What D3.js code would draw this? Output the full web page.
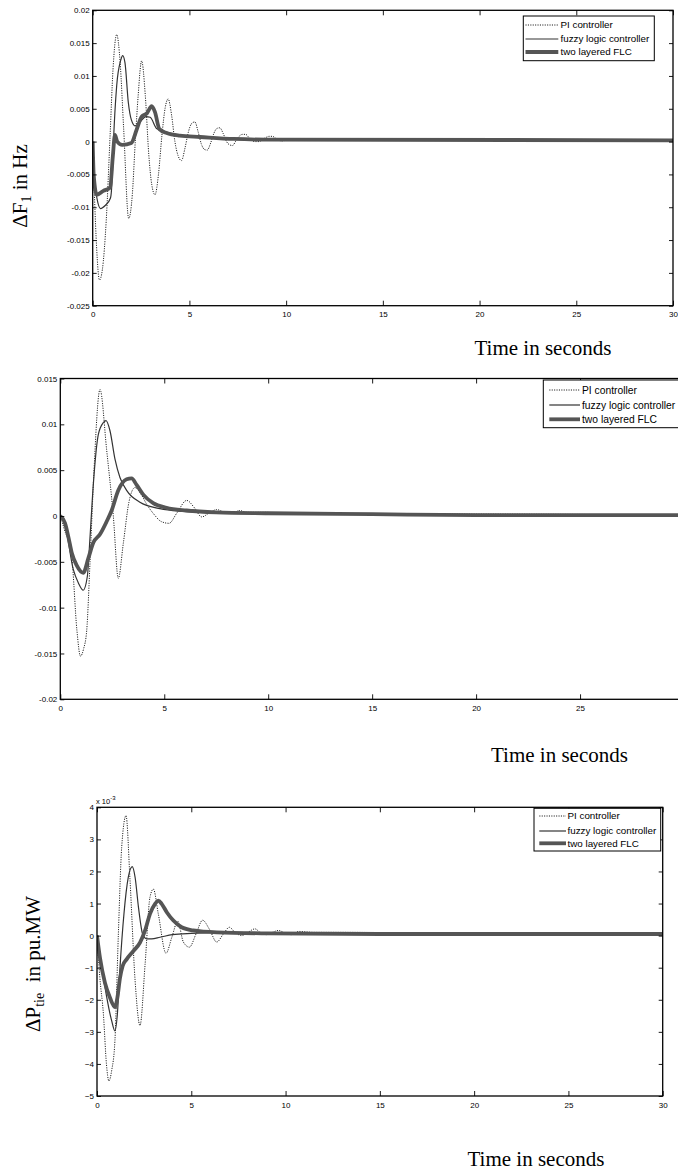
<!DOCTYPE html>
<html>
<head>
<meta charset="utf-8">
<script src="https://cdn.jsdelivr.net/npm/d3@7"></script>
<style>
  body { margin: 0; background: #fff; }
  text { fill: #000; }
</style>
</head>
<body>
<script>

// ===== data =====

const xTicks = [0, 5, 10, 15, 20, 25, 30];
const xTicksClipped = [0, 5, 10, 15, 20, 25];   // panel 2 runs past the page edge
const f1YTicks = [-0.025, -0.02, -0.015, -0.01, -0.005, 0, 0.005, 0.01, 0.015, 0.02];
const f2YTicks = [-0.02, -0.015, -0.01, -0.005, 0, 0.005, 0.01, 0.015];
const ptYTicks = [-5, -4, -3, -2, -1, 0, 1, 2, 3, 4];   // x 10^-3

const seriesNames = ["PI controller", "fuzzy logic controller", "two layered FLC"];

// Panel 1: delta F1 (Hz)
const f1PiT = [0, 0.1, 0.2, 0.35, 0.5, 0.7, 0.9, 1.05, 1.24, 1.42, 1.6, 1.86, 2.05, 2.2, 2.35, 2.53,
  2.72, 2.9, 3.05, 3.22, 3.4, 3.58, 3.75, 3.9, 4.08, 4.25, 4.42, 4.59, 4.77, 4.95, 5.1, 5.28,
  5.45, 5.62, 5.78, 5.92, 6.1, 6.27, 6.42, 6.57, 6.75, 6.92, 7.08, 7.23, 7.4, 7.57, 7.74, 7.91,
  8.08, 8.25, 8.42, 8.6, 8.77, 8.94, 9.12, 9.29, 9.5, 9.75, 10.0, 10.35, 10.7, 11.0, 11.35,
  11.7, 12.0, 12.5, 13, 30];
const f1PiV = [0, -0.009, -0.016, -0.0211, -0.0195, -0.012, 0.001, 0.011, 0.0163, 0.012, 0.002, -0.0117,
  -0.008, 0.0, 0.007, 0.0123, 0.007, -0.002, -0.0065, -0.0081, -0.005, 0.001, 0.0052, 0.0065, 0.004,
  0.0, -0.0022, -0.0029, -0.001, 0.0015, 0.0027, 0.003, 0.0015, -0.0004, -0.0012, -0.0013, -0.0002,
  0.0013, 0.002, 0.0021, 0.0012, 0.0, -0.0005, -0.0006, 0.0001, 0.0008, 0.0011, 0.0011, 0.0006,
  0.0001, 0.0, 0.0, 0.0003, 0.0006, 0.0008, 0.0008, 0.0004, 0.0001, 0.0002, 0.0004, 0.0004, 0.0002,
  0.0002, 0.0004, 0.0003, 0.0002, 0.0002, 0.0002];
const f1FuzzyT = [0, 0.05, 0.21, 0.4, 0.66, 0.92, 1.0, 1.07, 1.24, 1.45, 1.55, 1.67, 1.84, 2.0, 2.19,
  2.45, 2.75, 2.97, 3.3, 3.83, 4.5, 5.5, 7, 9, 30];
const f1FuzzyV = [0, -0.005, -0.0085, -0.0102, -0.0097, -0.0086, -0.006, -0.0003, 0.0085, 0.0124,
  0.0131, 0.012, 0.006, 0.0033, 0.0024, 0.003, 0.0038, 0.0037, 0.002, 0.0014, 0.001, 0.0006,
  0.0004, 0.0002, 0.0002];
const f1TwoT = [0, 0.05, 0.21, 0.55, 0.9, 1.04, 1.15, 1.27, 1.53, 2.0, 2.27, 2.53, 2.8, 3.05, 3.22,
  3.45, 3.83, 4.5, 5.56, 7.3, 9, 30];
const f1TwoV = [0, -0.005, -0.0081, -0.0075, -0.007, -0.0023, 0.001, 0.0, -0.0005, -0.0002, 0.0018,
  0.0038, 0.0043, 0.0054, 0.0045, 0.0019, 0.0013, 0.0009, 0.0007, 0.0004, 0.0003, 0.0002];

// Panel 2: second area frequency deviation
const f2PiT = [0, 0.2, 0.55, 0.8, 0.97, 1.12, 1.27, 1.43, 1.6, 1.91, 2.23, 2.55, 2.79, 3.03, 3.3,
  3.59, 3.85, 4.15, 4.5, 4.85, 5.23, 5.6, 6.08, 6.45, 6.8, 7.15, 7.52, 7.9, 8.3, 8.6, 9.0, 9.9,
  10.6, 12, 14, 20, 30];
const f2PiV = [0, -0.0015, -0.0045, -0.0125, -0.0153, -0.0145, -0.0125, -0.005, 0.004, 0.0138, 0.0072,
  0.0, -0.0068, -0.003, 0.0015, 0.0031, 0.0025, 0.0013, 0.0002, -0.0006, -0.0008, 0.0003, 0.0017,
  0.0009, -0.0001, 0.0003, 0.0007, 0.0004, 0.0003, 0.0006, 0.0004, 0.0004, 0.0003, 0.0003, 0.0002,
  0.0002, 0.0001];
const f2FuzzyT = [0, 0.23, 0.62, 0.87, 1.1, 1.3, 1.43, 1.59, 1.83, 2.07, 2.2, 2.39, 2.63, 2.87, 3.19,
  3.83, 4.79, 5.9, 8, 12, 30];
const f2FuzzyV = [0, -0.001, -0.0058, -0.0073, -0.0081, -0.0066, -0.0023, 0.0035, 0.0089, 0.0102,
  0.0104, 0.0093, 0.0062, 0.0042, 0.0028, 0.0015, 0.0008, 0.0005, 0.0003, 0.0002, 0.0001];
const f2TwoT = [0, 0.23, 0.39, 0.55, 0.79, 1.1, 1.35, 1.59, 1.91, 2.23, 2.47, 2.79, 3.19, 3.43, 3.67,
  4.0, 4.47, 5.11, 6.08, 7.5, 10, 15, 20, 30];
const f2TwoV = [0, -0.0008, -0.0023, -0.004, -0.0054, -0.0062, -0.0046, -0.0029, -0.002, -0.0006,
  0.0006, 0.0028, 0.004, 0.0041, 0.0034, 0.0023, 0.0014, 0.0009, 0.0006, 0.0004, 0.0003, 0.0002,
  0.0001, 0.0001];

// Panel 3: delta P tie (x 10^-3 pu MW)
const ptPiT = [0, 0.15, 0.34, 0.5, 0.63, 0.78, 0.95, 1.13, 1.31, 1.54, 1.75, 2.02, 2.28, 2.55, 2.81,
  2.99, 3.25, 3.66, 3.97, 4.28, 4.58, 4.9, 5.25, 5.6, 5.96, 6.35, 6.7, 7.02, 7.32, 7.68, 8.0, 8.38,
  8.7, 9.0, 9.3, 9.62, 10.0, 10.3, 10.7, 11.5, 13, 18, 30];
const ptPiV = [0, -1.3, -2.45, -4.0, -4.53, -4.2, -3.28, 0, 2.76, 3.74, 1.74, -1.4, -2.8, -0.9, 1.2,
  1.45, 0.68, -0.55, -0.05, 0.45, -0.2, -0.36, 0.05, 0.48, 0.2, -0.2, 0.05, 0.26, 0.1, 0.0, 0.1, 0.21,
  0.07, 0.03, 0.1, 0.16, 0.07, 0.03, 0.13, 0.1, 0.1, 0.08, 0.05];
const ptFuzzyT = [0, 0.26, 0.51, 0.78, 0.95, 1.08, 1.22, 1.43, 1.66, 1.87, 2.02, 2.2, 2.42, 2.64, 2.9,
  3.34, 4.0, 5.0, 7.0, 12, 30];
const ptFuzzyV = [0, -1.0, -1.9, -2.66, -2.97, -2.45, -0.99, 0.68, 1.82, 2.15, 1.82, 0.88, 0.05, -0.1,
  -0.1, -0.05, 0.03, 0.07, 0.1, 0.08, 0.05];
const ptTwoT = [0, 0.16, 0.42, 0.69, 0.95, 1.08, 1.22, 1.36, 1.57, 1.93, 2.28, 2.55, 2.81, 3.08, 3.25,
  3.43, 3.7, 4.05, 4.49, 5.1, 6.35, 9, 15, 30];
const ptTwoV = [0, -0.7, -1.47, -1.94, -2.23, -1.94, -1.32, -0.95, -0.74, -0.48, -0.22, 0.16, 0.68,
  0.99, 1.09, 0.99, 0.73, 0.47, 0.26, 0.16, 0.1, 0.07, 0.05, 0.05];

// ===== drawing =====

const W = 678, H = 1171;
const svg = d3.select("body").append("svg")
    .attr("width", W)
    .attr("height", H)
    .style("display", "block");

// line styles: dotted PI, thin fuzzy, thick two layered
const styles = [
    { stroke: "#1a1a1a", width: 1.0, dash: "1.1,1.3" },
    { stroke: "#333", width: 1.2, dash: null },
    { stroke: "#555", width: 3.8, dash: null }
];

const decFmt = (d) => d === 0 ? "0" : String(+d.toFixed(3));

function zip(t, v) { return t.map((d, i) => ({ t: d, v: v[i] })); }

function drawPanel(p) {
    const x = d3.scaleLinear().domain([0, 30]).range([p.left, p.right]);
    const y = d3.scaleLinear().domain(p.yDomain).range([p.bottom, p.top]);
    const g = svg.append("g");

    // clip to axes box
    g.append("clipPath").attr("id", "clip" + p.id)
        .append("rect")
        .attr("x", p.left).attr("y", p.top)
        .attr("width", p.right - p.left).attr("height", p.bottom - p.top);

    const line = d3.line()
        .x((d) => x(d.t))
        .y((d) => y(d.v))
        .curve(d3.curveMonotoneX);

    p.series.forEach((s, i) => {
        g.append("path")
            .datum(zip(s[0], s[1]))
            .attr("clip-path", `url(#clip${p.id})`)
            .attr("fill", "none")
            .attr("stroke", styles[i].stroke)
            .attr("stroke-width", styles[i].width)
            .attr("stroke-dasharray", styles[i].dash)
            .attr("stroke-linejoin", "round")
            .attr("d", line);
    });

    // axes (MATLAB style, ticks pointing inward on all sides)
    const bottom = g.append("g")
        .attr("transform", `translate(0, ${p.bottom})`)
        .call(d3.axisBottom(x).tickValues(p.xTicks).tickSizeInner(-5).tickSizeOuter(0).tickPadding(6));
    const top = g.append("g")
        .attr("transform", `translate(0, ${p.top})`)
        .call(d3.axisTop(x).tickValues(p.xTicks).tickSizeInner(-5).tickSizeOuter(0).tickFormat(""));
    const left = g.append("g")
        .attr("transform", `translate(${p.left}, 0)`)
        .call(d3.axisLeft(y).tickValues(p.yTicks).tickSizeInner(-4).tickSizeOuter(0).tickPadding(3)
            .tickFormat(p.yFormat));
    const right = g.append("g")
        .attr("transform", `translate(${p.right}, 0)`)
        .call(d3.axisRight(y).tickValues(p.yTicks).tickSizeInner(-4).tickSizeOuter(0).tickFormat(""));

    [bottom, top, left, right].forEach((a) => {
        a.select(".domain").remove();
        a.selectAll("line").attr("stroke", "#000").attr("stroke-width", 0.9);
        a.selectAll("text")
            .style("font-family", "'Liberation Sans', Arial, sans-serif")
            .style("font-size", "8px")
            .attr("fill", "#000");
    });

    // axes box
    g.append("rect")
        .attr("x", p.left).attr("y", p.top)
        .attr("width", p.right - p.left).attr("height", p.bottom - p.top)
        .attr("fill", "none")
        .attr("stroke", "#000")
        .attr("stroke-width", 1.3);

    // legend
    const lg = p.legend;
    const leg = g.append("g");
    leg.append("rect")
        .attr("x", lg.x).attr("y", lg.y)
        .attr("width", lg.w).attr("height", lg.h)
        .attr("fill", "#fff")
        .attr("stroke", "#000")
        .attr("stroke-width", 1);
    seriesNames.forEach((name, i) => {
        const ry = lg.rows[i];
        leg.append("line")
            .attr("x1", lg.sx0).attr("x2", lg.sx1)
            .attr("y1", ry).attr("y2", ry)
            .attr("stroke", styles[i].stroke)
            .attr("stroke-width", styles[i].width)
            .attr("stroke-dasharray", styles[i].dash);
        leg.append("text")
            .attr("x", lg.tx).attr("y", ry)
            .attr("dy", "0.35em")
            .style("font-family", "'Liberation Sans', Arial, sans-serif")
            .style("font-size", lg.font + "px")
            .text(name);
    });

    // x label
    svg.append("text")
        .attr("x", p.xLabel[0]).attr("y", p.xLabel[1])
        .style("font-family", "'Liberation Serif', 'Times New Roman', serif")
        .style("font-size", "21px")
        .text("Time in seconds");

    return { x, y, g };
}

drawPanel({
    id: 1, left: 92.7, right: 673, top: 10.3, bottom: 305.7,
    xTicks: xTicks,
    yDomain: [-0.025, 0.02], yTicks: f1YTicks, yFormat: decFmt,
    series: [[f1PiT, f1PiV], [f1FuzzyT, f1FuzzyV], [f1TwoT, f1TwoV]],
    legend: { x: 523.3, y: 16, w: 131, h: 44.7, sx0: 525.5, sx1: 558.3, tx: 560.5,
              rows: [25, 39, 52], font: 9.8 },
    xLabel: [474.5, 355]
});

drawPanel({
    id: 2, left: 60.3, right: 684, top: 378.5, bottom: 699.3,
    xTicks: xTicksClipped,
    yDomain: [-0.02, 0.015], yTicks: f2YTicks, yFormat: decFmt,
    series: [[f2PiT, f2PiV], [f2FuzzyT, f2FuzzyV], [f2TwoT, f2TwoV]],
    legend: { x: 543.3, y: 380, w: 142, h: 47.7, sx0: 549.3, sx1: 580, tx: 582,
              rows: [390, 405, 419.3], font: 10.3 },
    xLabel: [491, 762]
});

drawPanel({
    id: 3, left: 97, right: 662.7, top: 807.3, bottom: 1096,
    xTicks: xTicks,
    yDomain: [-5, 4], yTicks: ptYTicks, yFormat: d3.format("d"),
    series: [[ptPiT, ptPiV], [ptFuzzyT, ptFuzzyV], [ptTwoT, ptTwoV]],
    legend: { x: 534, y: 808.3, w: 126.7, h: 42.7, sx0: 539.3, sx1: 566, tx: 567.5,
              rows: [816, 831, 843.3], font: 9.8 },
    xLabel: [467.5, 1165.5]
});

// exponent label for panel 3
const expo = svg.append("text")
    .attr("x", 96).attr("y", 803.5)
    .style("font-family", "'Liberation Sans', Arial, sans-serif")
    .style("font-size", "7.5px");
expo.append("tspan").text("x 10");
expo.append("tspan").attr("dy", -3.5).style("font-size", "6px").text("-3");

// y labels
function yLabel(cx, cy, main, sub, rest) {
    const t = svg.append("text")
        .attr("transform", `translate(${cx}, ${cy}) rotate(-90)`)
        .attr("text-anchor", "middle")
        .style("font-family", "'Liberation Serif', 'Times New Roman', serif")
        .style("font-size", "21px");
    t.append("tspan").text(main);
    t.append("tspan").attr("dy", 4).style("font-size", "14px").text(sub);
    t.append("tspan").attr("dy", -4).text(rest);
}
yLabel(27, 186, "\u0394F", "1", " in Hz");
yLabel(40, 964, "\u0394P", "tie", "\u00a0 in pu.MW");

</script>
</body>
</html>
